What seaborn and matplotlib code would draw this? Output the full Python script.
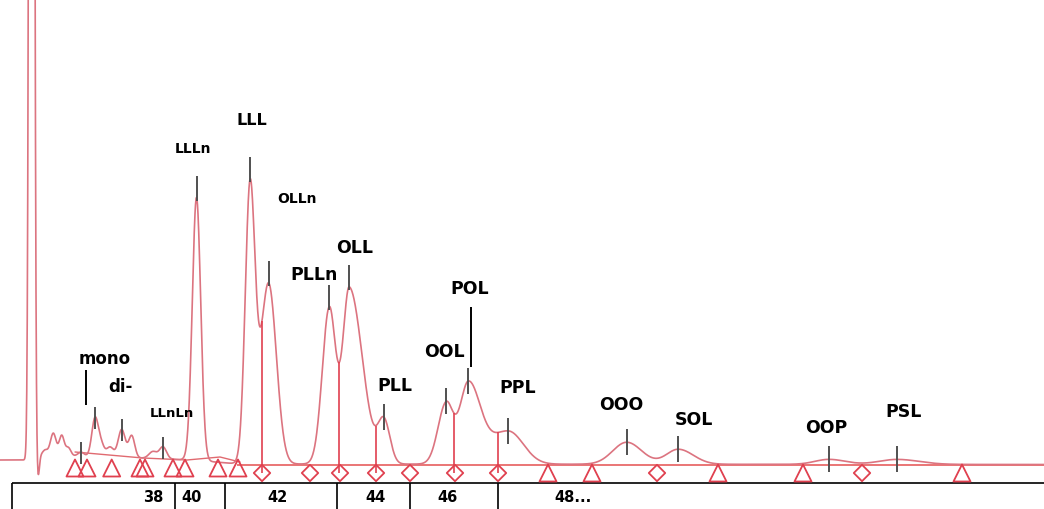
import numpy as np
import pandas as pd
import matplotlib
matplotlib.use("Agg")
import matplotlib.pyplot as plt
import seaborn as sns

# ---- data (x: retention position, y: detector height above baseline) ----
peak_labels = ["LLLn", "LLL", "OLLn", "PLLn", "OLL", "PLL", "OOL", "POL", "PPL", "OOO", "SOL", "OOP", "PSL"]
peak_rt      = [196.5, 250, 268.5, 329.3, 349.3, 384, 446, 468.3, 508.3, 626.7, 678.3, 829, 897]
peak_height  = [263, 274, 181, 156, 176, 42, 60, 80, 33, 22, 15, 5, 5]
sigma_left   = [4.2, 4.8, 7.8, 7.0, 6.5, 6.0, 8.0, 8.5, 18, 14, 12, 14, 18]
sigma_right  = [4.2, 5.0, 7.8, 6.5, 13, 6.0, 7.0, 12, 15, 15, 15, 16, 22]

minor_rt     = [31.7, 38, 45, 53.3, 61.7, 68.3, 81, 95, 101, 110, 121.7, 131.7, 153, 163]
minor_height = [3000, -22, 5, 22, 20, 8, 4, 38, 12, 10, 28, 22, 7, 12]
minor_sigma  = [1.8, 1.3, 3.0, 2.8, 2.5, 2.5, 3.0, 3.2, 3.0, 3.5, 3.5, 3.0, 4.0, 3.5]

base_rt     = [0, 28, 45, 140, 190, 240, 1044]
base_height = [5, 5, 10, 7, 5, 1, 0.5]

minor_labels = ["mono", "di-", "LLnLn"]
minor_ticks  = [81, 95, 121.7, 163]

int_base_rt     = [75, 143, 187, 220, 240]
int_base_height = [13, 7, 5, 8, 3]

drop_rt     = [262, 339.3, 375.7, 454, 497.7]
diamond_rt  = [262, 310, 340, 376, 410, 455, 498, 657, 862]
triangle_rt = [75, 87, 111.7, 140, 145, 173, 185, 218, 238, 548, 592, 718, 803, 962]

axis_labels = ["38", "40", "42", "44", "46", "48..."]
axis_label_x = [153, 192, 277, 375, 447, 573]
axis_separators = [12, 175, 225, 337, 410, 498]

# ---- build trace ----
x = np.arange(0, 1044.25, 0.25)
y = np.interp(x, base_rt, base_height)
for rt, h, sl, sr in zip(peak_rt, peak_height, sigma_left, sigma_right):
    s = np.where(x < rt, sl, sr)
    y = y + h * np.exp(-0.5 * ((x - rt) / s) ** 2)
for rt, h, s in zip(minor_rt, minor_height, minor_sigma):
    y = y + h * np.exp(-0.5 * ((x - rt) / s) ** 2)
trace = pd.DataFrame({"rt": x, "signal": y})

sns.set_style("white")
fig = plt.figure(figsize=(10.44, 5.09), dpi=100)
ax = fig.add_axes([0, 0, 1, 1])

line_col = "#dc7480"
mark_col = "#e0404f"

# integration baselines
ax.hlines(0, 237, 1044, color="#e86a6a", lw=1.3, zorder=1)
ax.plot(int_base_rt, int_base_height, color="#e06a70", lw=1.0, zorder=1)

sns.lineplot(data=trace, x="rt", y="signal", ax=ax, color=line_col, lw=1.2, zorder=2)

# drop lines
for d in drop_rt:
    ax.vlines(d, -8, np.interp(d, x, y), color=mark_col, lw=1.2, zorder=2)

# apex tick marks
for rt in peak_rt:
    sig = float(np.interp(rt, x, y))
    if sig > 120:
        lo, hi = sig - 3, sig + 22
    else:
        lo, hi = sig - 13, sig + 13
    ax.vlines(rt, lo, hi, color="#505050", lw=1.4, zorder=3)
for rt in minor_ticks:
    sig = float(np.interp(rt, x, y))
    ax.vlines(rt, sig - 12, sig + 10, color="#505050", lw=1.4, zorder=3)

# markers
mk = pd.DataFrame({"rt": diamond_rt})
mk["v"] = -8
sns.scatterplot(data=mk, x="rt", y="v", ax=ax, marker="D", s=70, facecolor="none",
                edgecolor=mark_col, linewidth=1.3, zorder=4)
mt = pd.DataFrame({"rt": triangle_rt})
mt["v"] = np.where(mt["rt"] < 240, -3, -8)
sns.scatterplot(data=mt, x="rt", y="v", ax=ax, marker="^", s=150, facecolor="none",
                edgecolor=mark_col, linewidth=1.3, zorder=4)

# label pointer lines
ax.vlines(85.7, 60, 95, color="black", lw=1.4)
ax.vlines(470.7, 98, 158, color="black", lw=1.4)

# peak labels (x centre, baseline height, size)
label_pos = {
    "LLLn": (193.3, 311.7, 10), "LLL": (251.7, 340, 11.5), "OLLn": (296.7, 261.7, 10),
    "PLLn": (314.2, 185, 12.5), "OLL": (355, 211.7, 12.5), "PLL": (395, 74.3, 12.5),
    "OOL": (444.2, 108.3, 12.5), "POL": (470, 171, 12.5), "PPL": (517.5, 71.7, 12.5),
    "OOO": (620.8, 55, 12.5), "SOL": (694.2, 40, 12.5), "OOP": (826.7, 31.7, 12.5),
    "PSL": (903.3, 48.3, 12.5),
}
for name in peak_labels:
    px, py, fs = label_pos[name]
    ax.text(px, py, name, ha="center", va="baseline", fontsize=fs, fontweight="bold", color="black")
minor_pos = {"mono": (104.7, 100.7, 12), "di-": (120.8, 73.3, 12), "LLnLn": (172, 47.7, 9.5)}
for name in minor_labels:
    px, py, fs = minor_pos[name]
    ax.text(px, py, name, ha="center", va="baseline", fontsize=fs, fontweight="bold", color="black")

# bottom axis
ax.hlines(-18, 12, 1044, color="black", lw=1.2)
ax.vlines(axis_separators, -44, -18, color="black", lw=1.2)
for lab, lx in zip(axis_labels, axis_label_x):
    ax.text(lx, -37, lab, ha="center", va="baseline", fontsize=10.5, fontweight="bold", color="black")

ax.set_xlim(0, 1044)
ax.set_ylim(-44, 465)
ax.set_axis_off()
fig.savefig("out.png", dpi=100, facecolor="white")
